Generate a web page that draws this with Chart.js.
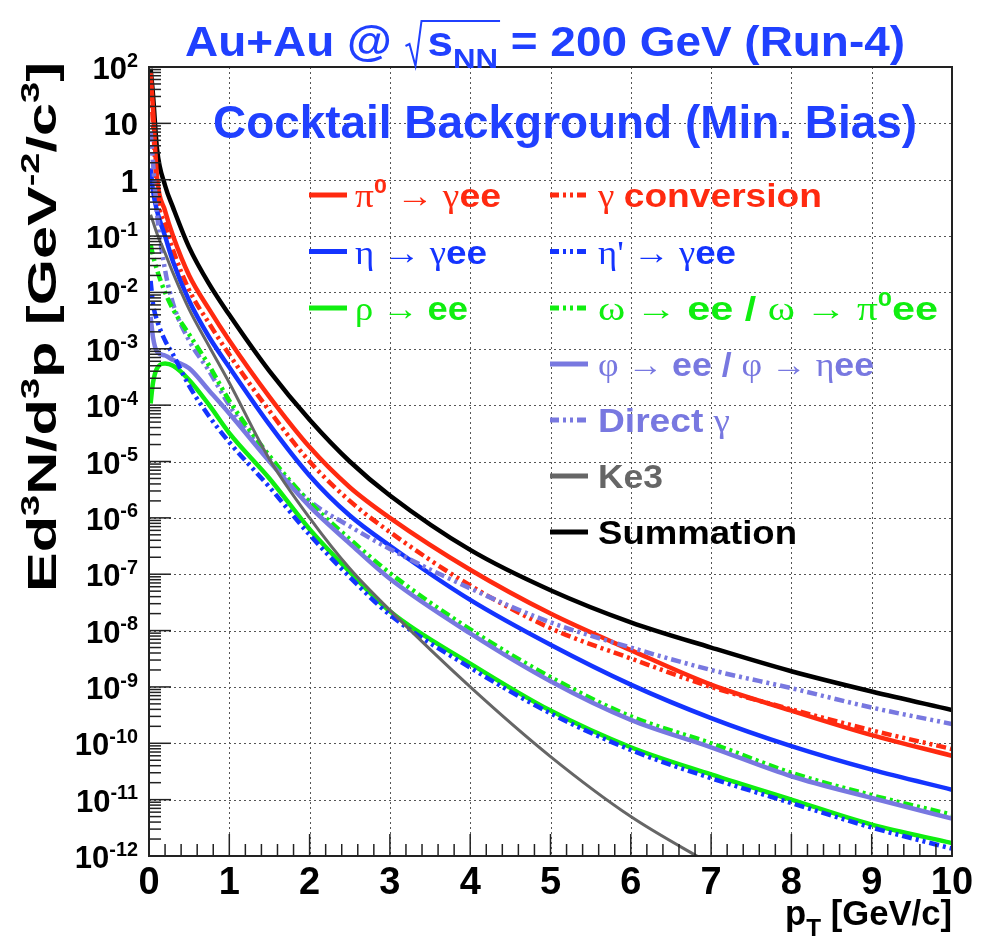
<!DOCTYPE html>
<html>
<head>
<meta charset="utf-8">
<script src="https://cdn.jsdelivr.net/npm/chart.js@4.4.1/dist/chart.umd.min.js"></script>
<style>
  html, body { margin: 0; padding: 0; background: #fff; }
  #wrap { width: 999px; height: 939px; position: relative; }
</style>
</head>
<body>
<div id="wrap"><canvas id="c" width="999" height="939"></canvas></div>
<script>
// pT grid (GeV/c) shared by all curves
const pT = [0.02, 0.05, 0.1, 0.2, 0.3, 0.5, 0.75, 1, 1.5, 2, 2.5, 3, 4, 5, 6, 7, 8, 9, 10];

// Ed3N/d3p values
const sumVals   = [93, 32, 3.5, 0.79, 0.32, 6.3e-2, 1.4e-2, 4.0e-3, 4.0e-4, 5.5e-5, 1.0e-5, 2.5e-6, 2.7e-7, 5.2e-8, 1.4e-8, 5.0e-9, 1.9e-9, 8.3e-10, 3.9e-10];
const pi0Vals   = [79, 18, 1.1, 0.28, 0.10, 2.0e-2, 5.0e-3, 1.4e-3, 1.4e-4, 1.8e-5, 3.5e-6, 1.0e-6, 1.2e-7, 2.0e-8, 4.5e-9, 1.1e-9, 3.8e-10, 1.4e-10, 6.0e-11];
const convVals  = [50, 10, 0.63, 0.16, 5.6e-2, 1.1e-2, 2.8e-3, 7.9e-4, 7.9e-5, 1.0e-5, 2.0e-6, 5.6e-7, 6.3e-8, 1.1e-8, 3.2e-9, 1.0e-9, 4.0e-10, 1.7e-10, 7.9e-11];
const etaVals   = [1.6, 0.63, 0.28, 0.10, 3.5e-2, 7.1e-3, 1.6e-3, 4.7e-4, 4.5e-5, 5.6e-6, 1.1e-6, 3.2e-7, 3.5e-8, 5.6e-9, 1.1e-9, 2.8e-10, 8.9e-11, 3.4e-11, 1.5e-11];
const etapVals  = [1.6e-2, 6.3e-3, 3.2e-3, 1.4e-3, 7.9e-4, 2.2e-4, 6.3e-5, 2.2e-5, 3.5e-6, 5.0e-7, 8.9e-8, 1.9e-8, 2.2e-9, 3.4e-10, 7.6e-11, 2.4e-11, 8.7e-12, 3.2e-12, 1.35e-12];
const rhoVals   = [1.07e-4, 2.5e-4, 4.5e-4, 5.5e-4, 5.0e-4, 2.8e-4, 1.0e-4, 3.2e-5, 5.0e-6, 6.3e-7, 1.1e-7, 2.2e-8, 2.6e-9, 3.8e-10, 8.5e-11, 2.8e-11, 1.0e-11, 3.6e-12, 1.7e-12];
const omegaVals = [7.1e-2, 4.5e-2, 2.5e-2, 1.0e-2, 5.0e-3, 1.8e-3, 5.0e-4, 1.2e-4, 1.26e-5, 1.9e-6, 4.2e-7, 1.05e-7, 1.05e-8, 1.5e-9, 3.0e-10, 1.0e-10, 3.0e-11, 1.2e-11, 5.4e-12];
const phiVals   = [3.7e-3, 1.6e-3, 8.9e-4, 7.6e-4, 6.3e-4, 4.5e-4, 1.8e-4, 7.1e-5, 1.0e-5, 1.6e-6, 3.5e-7, 8.3e-8, 8.9e-9, 1.26e-9, 2.6e-10, 8.5e-11, 2.6e-11, 1.07e-11, 4.6e-12];
const dirGamVals = [7.1, 2.0, 0.25, 2.5e-2, 6.3e-3, 1.4e-3, 4.0e-4, 1.0e-4, 1.1e-5, 2.0e-6, 7.1e-7, 2.8e-7, 5.6e-8, 1.4e-8, 5.0e-9, 2.0e-9, 9.5e-10, 4.3e-10, 2.2e-10];
const ke3Vals   = [0.24, 0.18, 0.11, 5.0e-2, 2.2e-2, 5.0e-3, 1.1e-3, 2.5e-4, 1.1e-5, 1.0e-6, 1.26e-7, 2.3e-8, 1.0e-9, 5.8e-11, 5.0e-12, 7.1e-13, null, null, null];

// axis ticks
const xTickVals = [0, 1, 2, 3, 4, 5, 6, 7, 8, 9, 10];
const yTickExps = [2, 1, 0, -1, -2, -3, -4, -5, -6, -7, -8, -9, -10, -11, -12];

const RED = '#ff2a10', BLUE = '#1434ff', GREEN = '#10ee10', LAV = '#7878e0', GRAY = '#666666', BLACK = '#000000';
const TXTBLUE = '#2040ff';
const DASHDOT = [10, 4, 3, 4, 3, 4];
const SANS = '"Liberation Sans", Arial, Helvetica, sans-serif';
const SERIF = '"Liberation Serif", "DejaVu Serif", serif';

function pts(vals) {
    return pT.map((x, i) => ({ x: x, y: vals[i] }));
}

function ds(label, vals, color, dashed, width) {
    return {
        label: label,
        data: pts(vals),
        borderColor: color,
        borderWidth: width || 4.5,
        borderDash: dashed ? DASHDOT : [],
        pointRadius: 0,
        fill: false,
        cubicInterpolationMode: 'monotone',
        spanGaps: false
    };
}

// rich text helpers (bold sans + regular serif greek, sup/sub)
function segFont(s, base) {
    const size = base * (s.k || 1);
    return s.f === 'r' ? `${size}px ${SERIF}` : `bold ${size}px ${SANS}`;
}
function segWidth(ctx, s, base) {
    if (s.gap) return s.gap * base;
    ctx.font = segFont(s, base);
    return ctx.measureText(s.t).width;
}
function drawRich(ctx, segs, x, y, base, color, align, width) {
    let nat = 0;
    segs.forEach(s => { nat += segWidth(ctx, s, base); });
    const sx = width ? width / nat : 1;
    const w = nat * sx;
    const x0 = align === 'right' ? x - w : align === 'center' ? x - w / 2 : x;
    const pos = [];
    ctx.save();
    ctx.translate(x0, y);
    ctx.scale(sx, 1);
    ctx.fillStyle = color;
    ctx.textAlign = 'left';
    ctx.textBaseline = 'alphabetic';
    let cx = 0;
    segs.forEach(s => {
        const sw = segWidth(ctx, s, base);
        if (!s.gap) {
            ctx.font = segFont(s, base);
            ctx.fillText(s.t, cx, -(s.dy || 0) * base);
        }
        pos.push({ x: x0 + cx * sx, w: sw * sx });
        cx += sw;
    });
    ctx.restore();
    return pos;
}

const legendRows = [
    { col: 0, row: 0, color: RED, dash: false, segs: [{ t: 'π', f: 'r' }, { t: '0', k: 0.62, dy: 0.42 }, { t: ' → γ', f: 'r' }, { t: 'ee' }], w: 146 },
    { col: 0, row: 1, color: BLUE, dash: false, segs: [{ t: 'η → γ', f: 'r' }, { t: 'ee' }], w: 132 },
    { col: 0, row: 2, color: GREEN, dash: false, segs: [{ t: 'ρ → ', f: 'r' }, { t: 'ee' }], w: 113 },
    { col: 1, row: 0, color: RED, dash: true, segs: [{ t: 'γ ', f: 'r' }, { t: 'conversion' }], w: 224 },
    { col: 1, row: 1, color: BLUE, dash: true, segs: [{ t: 'η\' → γ', f: 'r' }, { t: 'ee' }], w: 138 },
    { col: 1, row: 2, color: GREEN, dash: true, segs: [{ t: 'ω → ', f: 'r' }, { t: 'ee / ' }, { t: 'ω → π', f: 'r' }, { t: '0', k: 0.62, dy: 0.42 }, { t: 'ee' }], w: 340 },
    { col: 1, row: 3, color: LAV, dash: false, segs: [{ t: 'φ → ', f: 'r' }, { t: 'ee / ' }, { t: 'φ → η', f: 'r' }, { t: 'ee' }], w: 276 },
    { col: 1, row: 4, color: LAV, dash: true, segs: [{ t: 'Direct ' }, { t: 'γ', f: 'r' }], w: 132 },
    { col: 1, row: 5, color: GRAY, dash: false, segs: [{ t: 'Ke3' }], w: 65 },
    { col: 1, row: 6, color: BLACK, dash: false, segs: [{ t: 'Summation' }], w: 199 }
];
const legendRowY = [195, 251.5, 308, 364, 420, 476, 532];
const legendCols = [{ x0: 309, x1: 347, tx: 355 }, { x0: 550, x1: 588, tx: 598 }];

const rootStyle = {
    id: 'rootStyle',
    beforeDatasetsDraw(chart) {
        const { ctx, chartArea: a, scales: { x, y } } = chart;
        ctx.save();
        ctx.strokeStyle = '#555';
        ctx.lineWidth = 1;
        ctx.setLineDash([2, 3]);
        xTickVals.slice(1, -1).forEach(v => {
            const px = Math.round(x.getPixelForValue(v)) + 0.5;
            ctx.beginPath(); ctx.moveTo(px, a.top); ctx.lineTo(px, a.bottom); ctx.stroke();
        });
        yTickExps.slice(1, -1).forEach(e => {
            const py = Math.round(y.getPixelForValue(Math.pow(10, e))) + 0.5;
            ctx.beginPath(); ctx.moveTo(a.left, py); ctx.lineTo(a.right, py); ctx.stroke();
        });
        ctx.restore();
    },
    afterDatasetsDraw(chart) {
        const { ctx, chartArea: a, scales: { x, y } } = chart;
        ctx.save();
        // ticks
        ctx.strokeStyle = '#222';
        ctx.lineWidth = 1.5;
        for (let v = 0; v <= 10.001; v += 0.2) {
            const major = Math.abs(v - Math.round(v)) < 1e-6;
            const px = x.getPixelForValue(v);
            ctx.beginPath(); ctx.moveTo(px, a.bottom); ctx.lineTo(px, a.bottom - (major ? 22 : 12)); ctx.stroke();
        }
        yTickExps.forEach(e => {
            for (let m = 1; m <= 9; m++) {
                const val = m * Math.pow(10, e);
                if (val > 100.0001) continue;
                const py = y.getPixelForValue(val);
                ctx.beginPath(); ctx.moveTo(a.left, py); ctx.lineTo(a.left + (m === 1 ? 22 : 12), py); ctx.stroke();
            }
        });
        // frame
        ctx.strokeStyle = '#222';
        ctx.lineWidth = 2;
        ctx.strokeRect(a.left, a.top, a.right - a.left, a.bottom - a.top);

        // x tick labels
        ctx.fillStyle = '#000';
        ctx.textAlign = 'center';
        ctx.textBaseline = 'alphabetic';
        ctx.font = `bold 38px ${SANS}`;
        xTickVals.forEach(v => {
            ctx.fillText(String(v), x.getPixelForValue(v), 894);
        });
        // y tick labels
        yTickExps.forEach(e => {
            const py = y.getPixelForValue(Math.pow(10, e));
            let segs;
            if (e === 0) segs = [{ t: '1' }];
            else if (e === 1) segs = [{ t: '10' }];
            else segs = [{ t: '10' }, { t: String(e), k: 0.64, dy: 0.4 }];
            drawRich(ctx, segs, 138, py + 12, 31, '#000', 'right');
        });
        // axis titles
        drawRich(ctx, [{ t: 'p' }, { t: 'T', k: 0.7, dy: -0.3 }, { t: ' [GeV/c]' }], 952, 925, 35, '#000', 'right', 167);
        ctx.save();
        ctx.translate(56, 327);
        ctx.rotate(-Math.PI / 2);
        drawRich(ctx, [{ t: 'Ed' }, { t: '3', k: 0.64, dy: 0.42 }, { t: 'N/d' }, { t: '3', k: 0.64, dy: 0.42 },
            { t: 'p [GeV' }, { t: '-2', k: 0.64, dy: 0.42 }, { t: '/c' }, { t: '3', k: 0.64, dy: 0.42 }, { t: ']' }],
            0, 0, 40, '#000', 'center', 530);
        ctx.restore();

        // titles
        const tp = drawRich(ctx, [{ t: 'Au+Au @ ' }, { gap: 0.5 }, { t: 's' }, { t: 'NN', k: 0.68, dy: -0.28 }, { t: ' = 200 GeV (Run-4)' }],
            545, 56, 42, TXTBLUE, 'center', 720);
        ctx.strokeStyle = TXTBLUE;
        ctx.lineWidth = 2;
        ctx.setLineDash([]);
        const rx = tp[1].x, rEnd = tp[3].x + tp[3].w + 2;
        ctx.beginPath();
        ctx.moveTo(rx + 1, 46);
        ctx.lineTo(rx + 5, 44);
        ctx.lineTo(rx + 11, 66);
        ctx.lineTo(rx + 17, 21);
        ctx.lineTo(rEnd, 21);
        ctx.stroke();
        drawRich(ctx, [{ t: 'Cocktail Background (Min. Bias)' }], 213, 138, 46, TXTBLUE, 'left', 704);

        // legend
        legendRows.forEach(r => {
            const c = legendCols[r.col];
            const ly = legendRowY[r.row];
            ctx.strokeStyle = r.color;
            ctx.lineWidth = 5;
            ctx.setLineDash(r.dash ? [9, 4, 3, 4, 3, 4] : []);
            ctx.beginPath(); ctx.moveTo(c.x0, ly); ctx.lineTo(c.x1, ly); ctx.stroke();
            ctx.setLineDash([]);
            drawRich(ctx, r.segs, c.tx, ly + 12, 34, r.color, 'left', r.w);
        });
        ctx.restore();
    }
};

const ctx = document.getElementById('c').getContext('2d');
new Chart(ctx, {
    type: 'line',
    data: {
        datasets: [
            ds('Ke3', ke3Vals, GRAY, false, 3),
            ds('etaprime', etapVals, BLUE, true),
            ds('rho', rhoVals, GREEN, false),
            ds('phi', phiVals, LAV, false),
            ds('omega', omegaVals, GREEN, true),
            ds('direct gamma', dirGamVals, LAV, true),
            ds('eta', etaVals, BLUE, false),
            ds('conversion', convVals, RED, true),
            ds('pi0', pi0Vals, RED, false),
            ds('sum', sumVals, BLACK, false)
        ]
    },
    options: {
        responsive: false,
        animation: false,
        devicePixelRatio: 1,
        layout: { padding: { top: 67, right: 47, left: 0, bottom: 0 } },
        plugins: { legend: { display: false }, tooltip: { enabled: false } },
        scales: {
            x: {
                type: 'linear', min: 0, max: 10,
                grid: { display: false }, border: { display: false },
                ticks: { display: false },
                afterFit(scale) { scale.height = 83; }
            },
            y: {
                type: 'logarithmic', min: 1e-12, max: 100,
                grid: { display: false }, border: { display: false },
                ticks: { display: false },
                afterFit(scale) { scale.width = 149; }
            }
        }
    },
    plugins: [rootStyle]
});
</script>
</body>
</html>
